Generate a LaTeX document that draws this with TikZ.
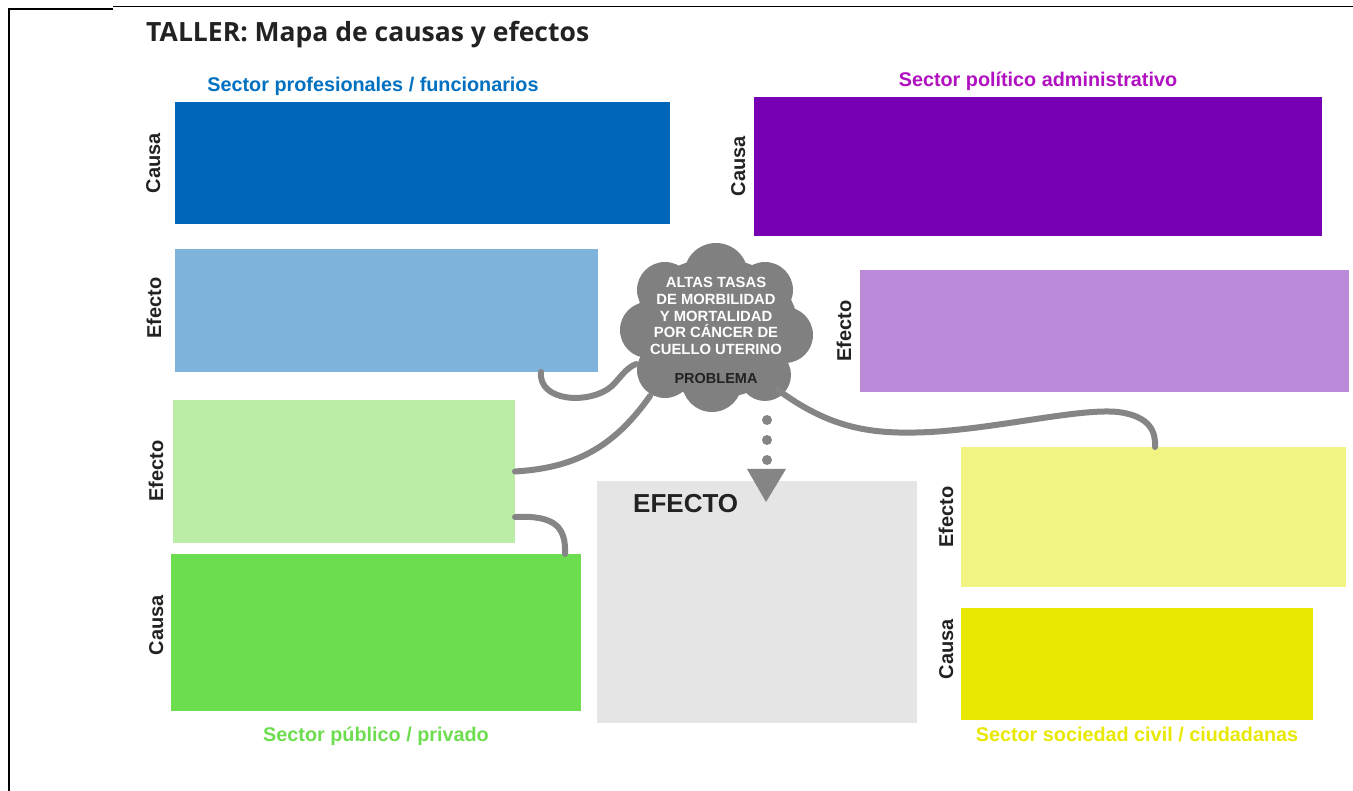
\documentclass[tikz,border=0pt]{standalone}
\usepackage{fontspec}
\setmainfont{Liberation Sans}
\newfontfamily\opensans{Open Sans}
\definecolor{cblue}{HTML}{0066B9}
\definecolor{clblue}{HTML}{7EB3DC}
\definecolor{clgreen}{HTML}{BBEDA7}
\definecolor{cgreen}{HTML}{6DDD50}
\definecolor{cpurple}{HTML}{7700B4}
\definecolor{clpurple}{HTML}{BB8BDA}
\definecolor{clyellow}{HTML}{F1F383}
\definecolor{cyellow}{HTML}{E8E800}
\definecolor{cgreybox}{HTML}{E5E5E5}
\definecolor{ccloud}{HTML}{808080}
\definecolor{cline}{HTML}{858585}
\definecolor{labk}{HTML}{222222}
\definecolor{tblue}{HTML}{0070C0}
\definecolor{tpurple}{HTML}{B010C0}
\definecolor{tgreen}{HTML}{6DDD50}
\definecolor{tyellow}{HTML}{E8E800}
\begin{document}
\begin{tikzpicture}[x=1pt,y=-1pt,
  box/.style={draw=none, inner sep=0pt, outer sep=0pt, anchor=north west},
  lbl/.style={font=\fontsize{20}{23}\selectfont\bfseries, text=labk, rotate=90, anchor=base, inner sep=0pt},
  sector/.style={font=\fontsize{19.8}{23}\selectfont\bfseries, anchor=base, inner sep=0pt},
  conn/.style={draw=cline, line width=6pt, line cap=round}]
\useasboundingbox (0,0) rectangle (1353,791);
\fill[white] (0,0) rectangle (1353,791);
% frame
\draw[line width=2pt] (9,791) -- (9,9) -- (113,9);
\draw[line width=1pt] (113,7) -- (1353,7);
% title
\node[anchor=base west, inner sep=0pt, font=\opensans\bfseries\fontsize{26.5}{30}\selectfont, text=labk] (title) at (146,42) {TALLER: Mapa de causas y efectos};
% boxes
\node[box, fill=cblue, minimum width=495pt, minimum height=122pt] (pc) at (175,102) {};
\node[box, fill=clblue, minimum width=423pt, minimum height=123pt] (pe) at (175,249) {};
\node[box, fill=clgreen, minimum width=342pt, minimum height=143pt] (ve) at (173,400) {};
\node[box, fill=cgreen, minimum width=410pt, minimum height=157pt] (vc) at (171,554) {};
\node[box, fill=cpurple, minimum width=568pt, minimum height=139pt] (gc) at (754,97) {};
\node[box, fill=clpurple, minimum width=489pt, minimum height=122pt] (ge) at (860,270) {};
\node[box, fill=clyellow, minimum width=385pt, minimum height=140pt] (ye) at (961,447) {};
\node[box, fill=cyellow, minimum width=352pt, minimum height=112pt] (yc) at (961,608) {};
\node[box, fill=cgreybox, minimum width=320pt, minimum height=242pt] (ef) at (597,481) {};
\node[anchor=base west, inner sep=0pt, font=\fontsize{26}{30}\selectfont\bfseries, text=labk] (eft) at (633,513) {EFECTO};
% rotated labels
\node[lbl] (lpc) at (160,163) {Causa};
\node[lbl] (lpe) at (161,308) {Efecto};
\node[lbl] (lve) at (163,471) {Efecto};
\node[lbl] (lvc) at (163,625) {Causa};
\node[lbl] (lgc) at (745,166) {Causa};
\node[lbl] (lge) at (851,331) {Efecto};
\node[lbl] (lye) at (953,517) {Efecto};
\node[lbl] (lyc) at (953,649) {Causa};
% sector labels
\node[sector, text=tblue] (sp) at (373,92) {Sector profesionales / funcionarios};
\node[sector, text=tpurple] (sg) at (1038,87) {Sector político administrativo};
\node[sector, text=tgreen] (sv) at (376,741) {Sector público / privado};
\node[sector, text=tyellow] (sy) at (1137,741) {Sector sociedad civil / ciudadanas};
% cloud
\fill[ccloud] (716,328) ellipse [x radius=82pt, y radius=70pt]
  (716,275) circle (32pt) (648,330) circle (28pt) (785,335) circle (28pt)
  (712,382) circle (30pt) (665,290) circle (28pt) (765,290) circle (28pt)
  (665,370) circle (28pt) (765,375) circle (26pt);
\node[inner sep=0pt, align=center, text=white, font=\fontsize{14.8}{16.7}\selectfont\bfseries] (prob) at (716,316)
  {ALTAS TASAS\\DE MORBILIDAD\\Y MORTALIDAD\\POR CÁNCER DE\\CUELLO UTERINO};
\node[inner sep=0pt, anchor=base, text=labk, font=\fontsize{14.5}{16.7}\selectfont\bfseries] (probl) at (716,384) {PROBLEMA};
% connector attach points on cloud
\coordinate (c1) at (636,364);
\coordinate (c2) at (650,396);
\coordinate (c4) at (778,390);
\coordinate (d1) at (767,420);
\coordinate (d2) at (767,462);
% connectors
\draw[conn] ([xshift=366pt]pe.south west) .. controls (538,402) and (590,405) .. (612,386) .. controls (620,378) and (626,368) .. (c1);
\draw[conn] (c2) .. controls (612,450) and (572,468) .. (ve.east);
\draw[conn] ([yshift=26pt]ve.south east) .. controls (556,515) and (566,528) .. ([xshift=-16pt]vc.north east);
\draw[conn] (c4) .. controls (830,428) and (870,435) .. (930,432) .. controls (1000,428) and (1080,408) .. (1118,412) .. controls (1150,416) and (1156,432) .. ([xshift=194pt]ye.north west);
% dotted arrow
\draw[cline, line width=10pt, line cap=round, dash pattern=on 0pt off 20pt] (d1) -- (d2);
\fill[cline] (747,469) -- (786,469) -- (766,502) -- cycle;
\end{tikzpicture}
\end{document}
